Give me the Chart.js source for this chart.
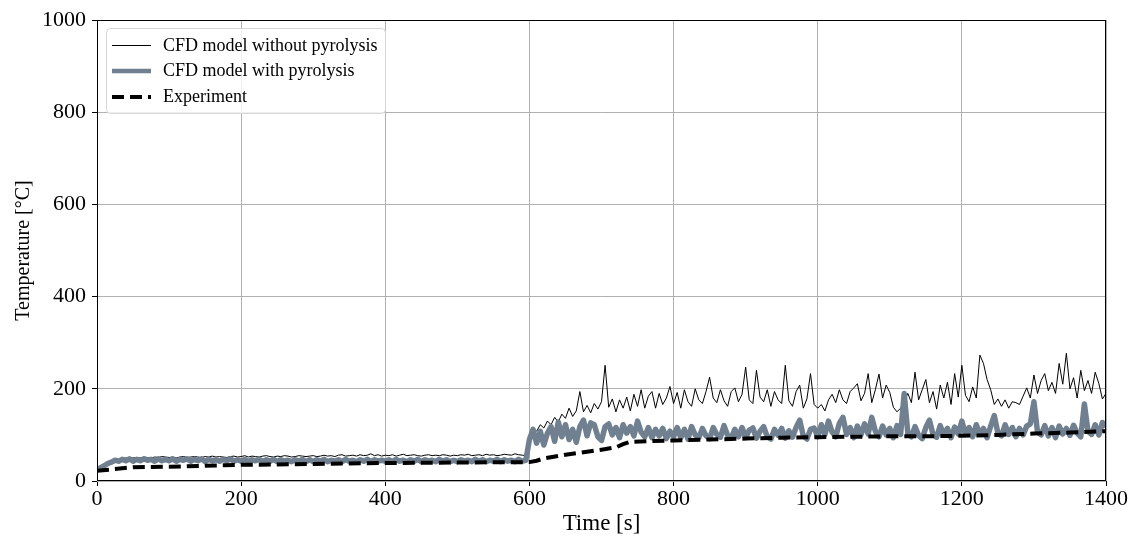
<!DOCTYPE html>
<html>
<head>
<meta charset="utf-8">
<script src="https://cdn.jsdelivr.net/npm/chart.js@4/dist/chart.umd.min.js"></script>
<style>
  html, body { margin: 0; padding: 0; background: #fff; }
  #wrap { width: 1134px; height: 540px; }
</style>
</head>
<body>
<div id="wrap"><canvas id="tempChart" width="1134" height="540"></canvas></div>
<script>
/* --------------- Data ------------------------------------------ */
// CFD series are sampled every 5 s from 0 to 1400 s
const stepSec = 5;

const noPyrolysis = [
  25,31,36,41,44,46,47,49,50,49,50,51,50,52,51,50,52,51,53,52,
  51,52,50,52,53,51,52,53,52,51,53,52,54,52,53,52,51,53,54,52,
  53,55,52,54,53,52,54,55,53,52,54,53,55,54,52,53,55,54,53,54,
  55,53,54,56,54,55,53,56,57,54,55,56,54,57,55,56,59,55,57,54,
  56,55,57,54,56,58,55,56,57,55,54,56,57,55,56,55,57,56,54,56,
  55,57,56,58,55,56,57,55,58,56,57,55,56,58,57,56,59,57,56,55,
  100,114,108,122,115,130,122,138,128,145,136,158,140,152,194,150,164,148,168,156,
  172,251,160,178,150,176,158,182,152,188,162,198,158,184,194,158,190,166,180,205,
  168,192,158,198,172,162,200,176,168,194,225,180,170,198,174,162,194,202,172,188,
  247,176,168,240,182,172,198,162,194,176,168,251,174,162,194,208,158,178,233,166,
  158,166,152,176,188,170,198,176,168,194,202,211,174,190,233,170,198,232,180,208,
  192,160,150,158,172,190,170,236,176,198,220,170,194,156,208,180,214,166,233,182,
  251,186,172,204,180,273,255,220,198,166,178,162,176,158,172,170,166,184,202,180,
  230,190,218,233,196,214,190,255,210,277,200,224,180,240,196,218,190,236,212,178,
  190
];

const withPyrolysis = [
  25,29,33,38,41,45,43,47,44,48,43,47,44,48,45,47,43,48,44,47,
  44,48,43,47,45,48,43,47,44,48,42,47,44,46,43,47,44,48,43,46,
  43,47,42,46,44,47,42,46,43,47,42,46,43,45,42,46,43,47,42,46,
  42,46,43,47,42,45,43,46,42,47,43,45,42,46,43,47,42,46,43,45,
  43,46,42,47,43,45,42,46,43,47,42,46,43,45,42,47,43,46,42,45,
  42,46,43,45,42,47,43,46,42,45,43,47,42,46,43,45,42,47,43,45,
  90,112,82,108,78,104,118,86,128,96,122,90,112,84,118,132,98,126,122,96,
  88,118,124,100,116,94,122,104,118,98,130,106,96,116,94,112,98,114,92,108,
  96,116,94,112,91,118,100,94,114,98,92,116,101,95,120,99,93,112,96,116,
  94,110,115,93,108,118,96,91,112,99,114,93,109,95,116,132,98,91,112,115,
  96,122,101,130,106,96,125,138,101,116,94,119,100,124,102,138,108,96,119,100,
  114,94,120,101,190,104,96,118,99,92,116,132,101,95,120,100,114,94,117,102,
  130,101,116,96,122,102,114,94,119,142,104,98,122,101,116,96,114,100,119,124,
  172,106,100,120,98,116,94,119,102,114,99,121,104,96,167,108,101,122,100,127,
  118
];

const expTime = [0, 20, 50, 100, 150, 200, 300, 400, 500, 600, 610, 620, 650, 700, 720, 730, 740, 800, 850, 900, 950, 1000, 1050, 1100, 1150, 1200, 1250, 1300, 1350, 1400];
const expTemp = [22, 25, 30, 31, 33, 35, 37, 39, 40, 41, 44, 49, 57, 68, 73, 80, 85, 88, 90, 92, 94, 95, 96, 97, 97, 98, 100, 103, 105, 108];

const xTicks = [0, 200, 400, 600, 800, 1000, 1200, 1400];
const yTicks = [0, 200, 400, 600, 800, 1000];

const seriesNames = ["CFD model without pyrolysis", "CFD model with pyrolysis", "Experiment"];

/* --------------- Build points --------------------- */
const toPoints = (vals) => vals.map((v, i) => ({ x: i * stepSec, y: v }));
const expPoints = expTime.map((t, i) => ({ x: t, y: expTemp[i] }));

const serif = "'Liberation Serif', 'DejaVu Serif', serif";

/* --------------- Frame + legend drawn on the canvas --------------------- */
const framePlugin = {
  id: "frame",
  afterDraw(chart) {
    const { ctx, chartArea: a } = chart;
    ctx.save();
    ctx.strokeStyle = "#000";
    ctx.lineWidth = 1;
    ctx.strokeRect(a.left + 0.5, a.top + 0.5, a.right - a.left - 1, a.bottom - a.top - 1);

    // legend box
    const bx = 106.5, by = 28.5, bw = 279, bh = 85, r = 4;
    ctx.beginPath();
    ctx.moveTo(bx + r, by);
    ctx.arcTo(bx + bw, by, bx + bw, by + bh, r);
    ctx.arcTo(bx + bw, by + bh, bx, by + bh, r);
    ctx.arcTo(bx, by + bh, bx, by, r);
    ctx.arcTo(bx, by, bx + bw, by, r);
    ctx.closePath();
    ctx.fillStyle = "rgba(255,255,255,0.8)";
    ctx.fill();
    ctx.strokeStyle = "#d6d6d6";
    ctx.stroke();

    const rows = [45.5, 71, 97];
    chart.data.datasets.forEach((ds, i) => {
      const y = rows[i];
      ctx.beginPath();
      ctx.setLineDash(ds.borderDash || []);
      ctx.lineWidth = Math.min(ds.borderWidth, 4.5);
      ctx.strokeStyle = ds.borderColor;
      ctx.moveTo(112, y);
      ctx.lineTo(151, y);
      ctx.stroke();
      ctx.setLineDash([]);
      ctx.fillStyle = "#000";
      ctx.font = "18px " + serif;
      ctx.textBaseline = "middle";
      ctx.fillText(ds.label, 163, Math.round(y));
    });
    ctx.restore();
  },
};

/* --------------- Chart --------------------- */
new Chart(document.getElementById("tempChart"), {
  type: "line",
  data: {
    datasets: [
      {
        label: seriesNames[0],
        data: toPoints(noPyrolysis),
        borderColor: "#000000",
        borderWidth: 1,
        pointRadius: 0,
        tension: 0,
        order: 2,
      },
      {
        label: seriesNames[1],
        data: toPoints(withPyrolysis),
        borderColor: "#708090",
        borderWidth: 5.5,
        borderJoinStyle: "round",
        pointRadius: 0,
        tension: 0,
        order: 1,
      },
      {
        label: seriesNames[2],
        data: expPoints,
        borderColor: "#000000",
        borderWidth: 4,
        borderDash: [12, 6],
        pointRadius: 0,
        tension: 0,
        order: 0,
      },
    ],
  },
  options: {
    responsive: false,
    animation: false,
    layout: { padding: { top: 20, right: 28, left: 0, bottom: 0 } },
    plugins: { legend: { display: false }, tooltip: { enabled: false } },
    scales: {
      x: {
        type: "linear",
        min: 0,
        max: 1400,
        afterBuildTicks: (s) => { s.ticks = xTicks.map((v) => ({ value: v })); },
        afterFit: (s) => { s.height = 59; },
        grid: { color: "#b0b0b0", lineWidth: 1, tickColor: "#000", tickLength: 5 },
        border: { display: false },
        ticks: { color: "#000", font: { family: serif, size: 22 }, padding: 0, maxRotation: 0, callback: (v) => String(v) },
        title: { display: true, text: "Time [s]", color: "#000", font: { family: serif, size: 23 }, padding: { top: 0, bottom: 2 } },
      },
      y: {
        min: 0,
        max: 1000,
        afterBuildTicks: (s) => { s.ticks = yTicks.map((v) => ({ value: v })); },
        afterFit: (s) => { s.width = 97; },
        grid: { color: "#b0b0b0", lineWidth: 1, tickColor: "#000", tickLength: 5 },
        border: { display: false },
        ticks: { color: "#000", font: { family: serif, size: 22 }, padding: 6, callback: (v) => String(v) },
        title: { display: true, text: "Temperature [°C]", color: "#000", font: { family: serif, size: 20 }, padding: { top: 12, bottom: 0 } },
      },
    },
  },
  plugins: [framePlugin],
});
</script>
</body>
</html>
